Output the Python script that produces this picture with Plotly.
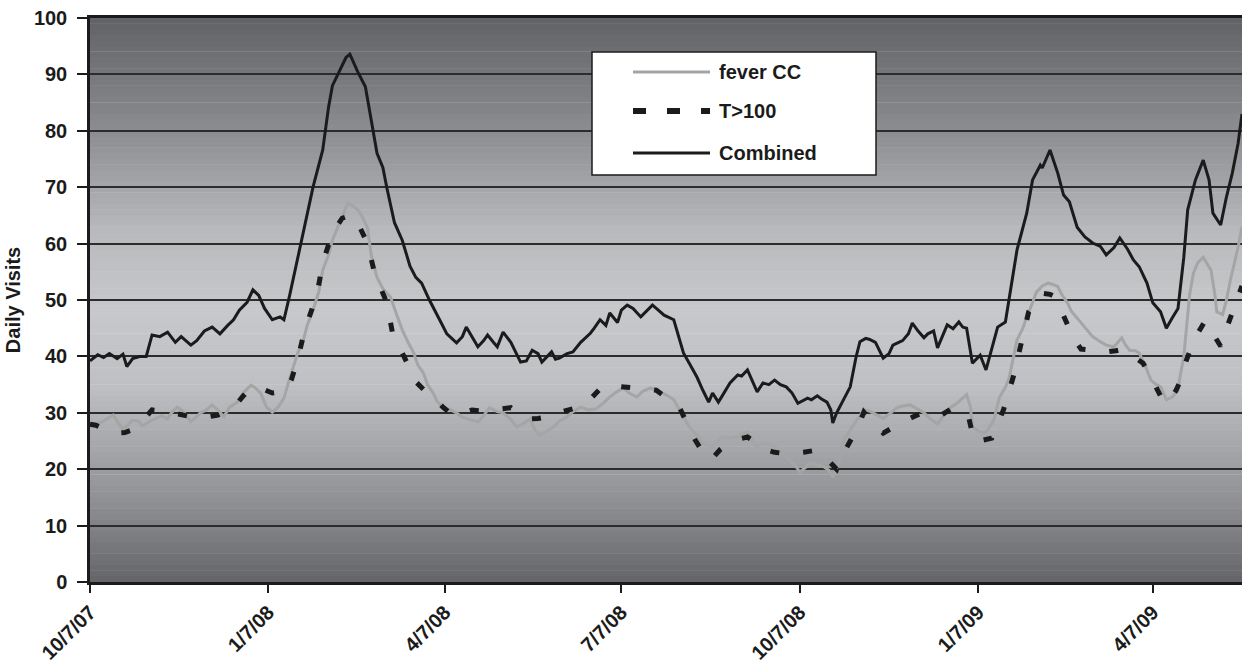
import datetime as dt
import plotly.graph_objects as go

# Daily visit counts, read as (days since 10/7/07, visits)
START = dt.date(2007, 10, 7)
END = dt.date(2009, 5, 23)

combined_day = [
    0, 4, 7, 10, 14, 17, 19, 22, 26, 29,
    32, 36, 40, 44, 47, 52, 55, 59, 63, 67,
    71, 74, 77, 81, 84, 87, 90, 94, 98, 100,
    103, 108, 114, 115, 120, 123, 125, 128, 132, 134,
    136, 138, 142, 146, 148, 151, 153, 157, 161, 165,
    168, 171, 175, 181, 184, 189, 192, 194, 197, 200,
    203, 205, 208, 210, 213, 217, 222, 225, 228, 231,
    233, 236, 238, 240, 242, 246, 249, 253, 258, 260,
    263, 266, 268, 272, 274, 277, 280, 284, 287, 290,
    292, 296, 301, 304, 306, 309, 313, 316, 319, 321,
    324, 326, 330, 334, 336, 339, 341, 344, 347, 350,
    353, 356, 359, 362, 365, 370, 372, 375, 377, 380,
    382, 383, 385, 387, 390, 392, 395, 397, 400, 402,
    405, 409, 412, 414, 417, 419, 422, 424, 427, 430,
    432, 435, 437, 440, 442, 445, 448, 450, 452, 455,
    459, 462, 464, 468, 472, 474, 478, 483, 486, 490,
    491, 495, 499, 502, 505, 509, 513, 517, 521, 524,
    528, 531, 535, 538, 541, 545, 548, 552, 555, 558,
    561, 564, 566, 570, 574, 577, 579, 583, 586, 589,
    592, 594,
]
combined_visits = [
    39.2, 40.3, 39.8, 40.5, 39.6, 40.4, 38.2, 39.6, 40.0, 40.0,
    43.8, 43.5, 44.3, 42.5, 43.5, 42.0, 42.8, 44.5, 45.2, 44.0,
    45.5, 46.5, 48.2, 49.6, 51.8, 50.8, 48.5, 46.5, 47.0, 46.5,
    50.9, 58.9, 68.6, 70.0, 76.6, 84.2, 88.0, 90.2, 93.0, 93.6,
    92.0, 90.5, 87.8, 80.1, 76.0, 73.5, 70.0, 63.7, 60.6, 56.0,
    54.0, 53.0, 50.0, 46.0, 44.0, 42.4, 43.5, 45.2, 43.5, 41.7,
    42.8, 43.8, 42.5, 41.7, 44.3, 42.5, 39.0, 39.2, 41.1, 40.5,
    39.0, 40.0, 40.8, 39.5, 39.7, 40.5, 40.8, 42.5, 44.1, 45.0,
    46.5, 45.5, 47.7, 46.0, 48.2, 49.1, 48.5, 47.0, 48.0, 49.1,
    48.5, 47.3, 46.5, 43.0, 40.6, 38.8, 36.3, 34.0, 31.9, 33.5,
    31.9, 33.0, 35.3, 36.7, 36.5, 37.6, 36.0, 33.7, 35.3, 35.0,
    35.8, 35.0, 34.6, 33.5, 31.7, 32.6, 32.3, 33.0, 32.5, 31.9,
    30.5, 28.2, 30.0, 31.4, 33.5, 34.6, 39.9, 42.6, 43.2, 43.0,
    42.5, 39.7, 40.5, 42.0, 42.5, 42.8, 44.0, 45.9, 44.5, 43.3,
    44.0, 44.5, 41.5, 44.0, 45.6, 44.9, 46.1, 45.2, 45.0, 38.8,
    40.2, 37.6, 40.0, 45.2, 46.1, 50.5, 58.9, 65.4, 71.3, 73.9,
    73.4, 76.6, 72.5, 68.6, 67.4, 62.9, 61.2, 60.1, 59.5, 58.0,
    59.3, 61.0, 59.0, 57.1, 55.9, 53.0, 49.5, 47.9, 45.0, 46.8,
    48.5, 57.6, 66.0, 71.3, 74.8, 71.3, 65.4, 63.3, 68.3, 72.5,
    77.8, 83.0,
]

fever_day = [
    0, 4, 7, 9, 12, 14, 17, 20, 22, 25,
    27, 31, 35, 37, 40, 42, 45, 48, 52, 54,
    57, 60, 63, 66, 69, 72, 76, 79, 83, 85,
    88, 91, 94, 97, 100, 102, 105, 107, 110, 112,
    115, 118, 120, 123, 125, 129, 133, 135, 138, 140,
    143, 145, 148, 151, 155, 158, 161, 164, 167, 169,
    172, 174, 177, 179, 182, 186, 189, 192, 196, 200,
    203, 206, 210, 213, 217, 220, 223, 227, 229, 232,
    236, 239, 242, 246, 249, 253, 257, 261, 265, 268,
    272, 275, 278, 282, 285, 289, 292, 296, 298, 301,
    303, 306, 309, 313, 316, 319, 321, 324, 326, 330,
    334, 336, 339, 341, 344, 347, 351, 354, 357, 361,
    364, 366, 369, 371, 375, 378, 381, 383, 386, 388,
    391, 393, 396, 399, 402, 406, 409, 413, 416, 419,
    423, 426, 430, 433, 437, 440, 444, 447, 450, 452,
    454, 455, 458, 461, 463, 466, 469, 472, 474, 478,
    481, 483, 486, 488, 491, 494, 496, 499, 501, 504,
    506, 509, 512, 514, 517, 521, 524, 528, 530, 532,
    534, 536, 539, 541, 544, 547, 549, 552, 555, 558,
    561, 562, 564, 566, 567, 569, 571, 574, 576, 578,
    580, 581, 584, 586, 588, 592, 594,
]
fever_visits = [
    27.5, 28.0, 28.5, 29.0, 29.6, 28.5, 27.0, 28.0, 28.7, 28.5,
    27.7, 28.5, 29.1, 29.5, 28.9, 30.0, 31.0, 30.3, 28.4, 29.0,
    30.0, 30.5, 31.4, 30.5, 29.3, 31.0, 31.9, 33.5, 34.9, 34.5,
    33.5, 31.0, 30.1, 31.0, 32.6, 35.0, 38.1, 40.5, 42.9, 45.5,
    48.2, 51.5, 55.3, 58.0, 60.6, 64.0, 67.2, 66.8, 66.0, 65.0,
    62.9, 58.0, 54.0, 52.0, 50.5, 47.5, 44.7, 42.5, 40.6, 38.5,
    37.0, 35.0, 33.5, 32.0, 31.0, 30.5, 30.0, 29.2, 28.8, 28.4,
    29.5, 30.9, 30.2, 30.0, 28.8, 27.5, 28.0, 28.9, 27.2, 26.0,
    26.8, 27.5, 28.5, 29.3, 30.2, 31.0, 30.5, 30.7, 31.8, 32.8,
    33.8, 34.4, 33.5, 32.8, 33.8, 34.4, 34.0, 33.3, 33.0, 32.3,
    31.0, 29.3, 27.5, 26.0, 24.6, 24.2, 24.0, 25.0, 25.6, 25.5,
    25.7, 26.2, 26.6, 25.5, 24.0, 24.5, 24.3, 23.8, 22.9, 21.5,
    20.5, 19.5, 20.3, 21.1, 20.8, 20.5, 19.8, 18.6, 21.0, 24.6,
    26.5, 27.5, 29.0, 30.5, 30.3, 29.6, 29.0, 30.0, 30.9, 31.2,
    31.4, 30.8, 30.0, 29.0, 28.0, 29.5, 31.0, 31.7, 32.5, 33.2,
    31.0, 27.5, 26.8, 26.4, 27.0, 28.7, 32.8, 34.5, 36.3, 42.9,
    45.0, 47.0, 49.5, 51.4, 52.5, 53.0, 52.8, 52.4, 51.0, 49.5,
    48.0, 46.8, 45.5, 44.7, 43.5, 42.6, 42.0, 41.7, 42.5, 43.3,
    42.0, 41.1, 41.0, 40.6, 38.5, 35.8, 35.2, 34.6, 32.3, 32.8,
    34.0, 36.3, 40.0, 47.0, 51.0, 54.8, 56.5, 57.6, 56.5, 55.3,
    51.0, 47.9, 47.4, 50.0, 53.5, 59.4, 63.0,
]

temp_day = [
    0, 3, 8, 13, 18, 22, 27, 32, 38, 43,
    49, 55, 61, 66, 71, 76, 79, 83, 87, 90,
    94, 101, 104, 107, 111, 117, 120, 125, 130, 135,
    139, 143, 147, 153, 156, 162, 168, 173, 177, 182,
    187, 192, 197, 203, 208, 212, 217, 222, 226, 231,
    236, 241, 246, 252, 256, 260, 264, 269, 274, 278,
    283, 288, 292, 298, 304, 308, 312, 316, 320, 325,
    330, 334, 339, 343, 347, 353, 360, 368, 375, 380,
    385, 388, 392, 396, 399, 404, 409, 414, 419, 424,
    429, 434, 439, 445, 450, 453, 456, 461, 465, 468,
    471, 476, 480, 484, 488, 491, 495, 498, 501, 504,
    507, 511, 517, 524, 529, 533, 538, 543, 546, 549,
    552, 556, 560, 563, 565, 568, 571, 575, 579, 583,
    585, 588, 591, 593, 594,
]
temp_visits = [
    28.0, 27.8, 27.0, 26.4, 26.5, 27.0, 28.5, 30.5, 30.3, 30.0,
    29.5, 29.1, 29.3, 29.6, 30.5, 31.7, 33.0, 34.4, 34.5, 34.0,
    33.5, 33.8, 36.0, 39.4, 45.0, 50.9, 56.6, 61.9, 64.5, 65.1,
    63.0, 60.1, 54.4, 49.6, 44.1, 39.9, 35.5, 33.8, 32.8, 31.0,
    29.6, 30.0, 30.5, 30.3, 30.5, 30.6, 30.9, 29.5, 28.9, 29.0,
    29.3, 30.0, 30.5, 31.0, 31.7, 33.0, 34.6, 34.8, 34.6, 34.4,
    34.2, 34.1, 34.0, 32.5, 30.9, 28.0, 25.2, 23.0, 21.6, 23.5,
    24.8, 25.3, 25.7, 24.8, 23.6, 23.0, 22.7, 23.0, 23.4, 21.8,
    20.0, 22.5, 25.0, 27.5, 30.1, 28.0, 26.4, 27.5, 28.4, 29.2,
    30.0, 29.8, 29.6, 30.9, 30.0, 29.3, 24.8, 25.2, 25.5, 28.0,
    30.5, 36.3, 42.0, 47.9, 50.0, 51.2, 51.0, 50.5, 48.0, 45.4,
    43.3, 41.3, 41.0, 40.8, 41.0, 41.3, 40.0, 38.8, 37.0, 34.9,
    33.0, 31.7, 34.0, 36.2, 39.0, 41.8, 44.0, 46.3, 44.0, 41.8,
    44.0, 46.8, 49.5, 52.0, 52.5,
]

tick_dates = ["2007-10-07", "2008-01-07", "2008-04-07", "2008-07-07",
              "2008-10-07", "2009-01-07", "2009-04-07"]
tick_labels = ["10/7/07", "1/7/08", "4/7/08", "7/7/08",
               "10/7/08", "1/7/09", "4/7/09"]
y_ticks = list(range(0, 101, 10))

series_names = ["fever CC", "T>100", "Combined"]

FONT = "Liberation Sans, Arial, Helvetica, sans-serif"
INK = "#1b1b1b"
GREY_LINE = "#a5a5a5"
DASH = "9px,24px"

# figure geometry in pixels
W, H = 1242, 666
M_L, M_R, M_T, M_B = 90, 0, 18, 84
PLOT_W = W - M_L - M_R
PLOT_H = H - M_T - M_B


def to_dates(days):
    return [START + dt.timedelta(days=d) for d in days]


def px_x(px):
    return (px - M_L) / PLOT_W


def px_y(py):
    return (H - M_B - py) / PLOT_H


# background gradient stops: (axis value, rgb)
GRADIENT = [
    (0, (100, 101, 105)),
    (15, (145, 146, 150)),
    (35, (190, 192, 195)),
    (48, (198, 200, 203)),
    (62, (184, 186, 189)),
    (80, (140, 141, 145)),
    (100, (97, 98, 102)),
]


def shade(v):
    for (v0, c0), (v1, c1) in zip(GRADIENT, GRADIENT[1:]):
        if v0 <= v <= v1:
            t = (v - v0) / (v1 - v0)
            return "rgb(%d,%d,%d)" % tuple(round(c0[i] + (c1[i] - c0[i]) * t) for i in range(3))
    return "rgb(%d,%d,%d)" % GRADIENT[-1][1]


fig = go.Figure()
fig.add_trace(go.Scatter(
    x=to_dates(fever_day), y=fever_visits, mode="lines", name=series_names[0],
    line=dict(color=GREY_LINE, width=3), showlegend=False))
fig.add_trace(go.Scatter(
    x=to_dates(temp_day), y=temp_visits, mode="lines", name=series_names[1],
    line=dict(color=INK, width=5, dash=DASH), showlegend=False))
fig.add_trace(go.Scatter(
    x=to_dates(combined_day), y=combined_visits, mode="lines", name=series_names[2],
    line=dict(color=INK, width=3), showlegend=False))

shapes = []
for lo in range(0, 100):
    shapes.append(dict(type="rect", xref="paper", yref="y", x0=0, x1=1,
                       y0=lo, y1=min(lo + 1.08, 100), fillcolor=shade(lo + 0.5),
                       line=dict(width=0), layer="below"))

# legend box drawn by hand so the sample lines can be long
box = dict(left=592, top=52, right=876, bottom=175)
shapes.append(dict(type="rect", xref="paper", yref="paper",
                   x0=px_x(box["left"]), x1=px_x(box["right"]),
                   y0=px_y(box["bottom"]), y1=px_y(box["top"]),
                   fillcolor="white", line=dict(color=INK, width=1.5), layer="above"))
entry_rows = [72, 111, 153]
entry_styles = [dict(color=GREY_LINE, width=3),
                dict(color=INK, width=6, dash="13px,21px"),
                dict(color=INK, width=3)]
annotations = []
for name, row, style in zip(series_names, entry_rows, entry_styles):
    shapes.append(dict(type="line", xref="paper", yref="paper",
                       x0=px_x(633), x1=px_x(710), y0=px_y(row), y1=px_y(row),
                       line=style, layer="above"))
    annotations.append(dict(text=name, xref="paper", yref="paper",
                            x=px_x(717), y=px_y(row), xanchor="left", yanchor="middle",
                            showarrow=False,
                            font=dict(family=FONT, size=20, color=INK, weight="bold")))

fig.update_layout(
    width=W, height=H,
    template="none",
    margin=dict(l=M_L, r=M_R, t=M_T, b=M_B, pad=0),
    paper_bgcolor="white",
    plot_bgcolor="rgba(0,0,0,0)",
    font=dict(family=FONT, size=20, color=INK, weight="bold"),
    shapes=shapes,
    annotations=annotations,
    showlegend=False,
    xaxis=dict(
        type="date", range=[START, END],
        tickvals=tick_dates, ticktext=tick_labels, tickangle=-45,
        ticks="outside", ticklen=8, tickwidth=1.5, tickcolor=INK,
        tickfont=dict(family=FONT, size=20, color=INK, weight="bold"),
        showline=True, mirror=True, linecolor=INK, linewidth=2.5,
        showgrid=False, zeroline=False, automargin=False,
    ),
    yaxis=dict(
        range=[0, 100], tickvals=y_ticks,
        ticks="outside", ticklen=10, tickwidth=1.5, tickcolor=INK,
        ticklabelstandoff=6,
        tickfont=dict(family=FONT, size=20, color=INK, weight="bold"),
        showline=True, linecolor=INK, linewidth=2.5,
        showgrid=True, gridcolor="#2c2c2c", gridwidth=1.5,
        zeroline=False, automargin=False,
        title=dict(text="Daily Visits", standoff=8,
                   font=dict(family=FONT, size=20, color=INK, weight="bold")),
    ),
)

fig.write_html("out.html")
